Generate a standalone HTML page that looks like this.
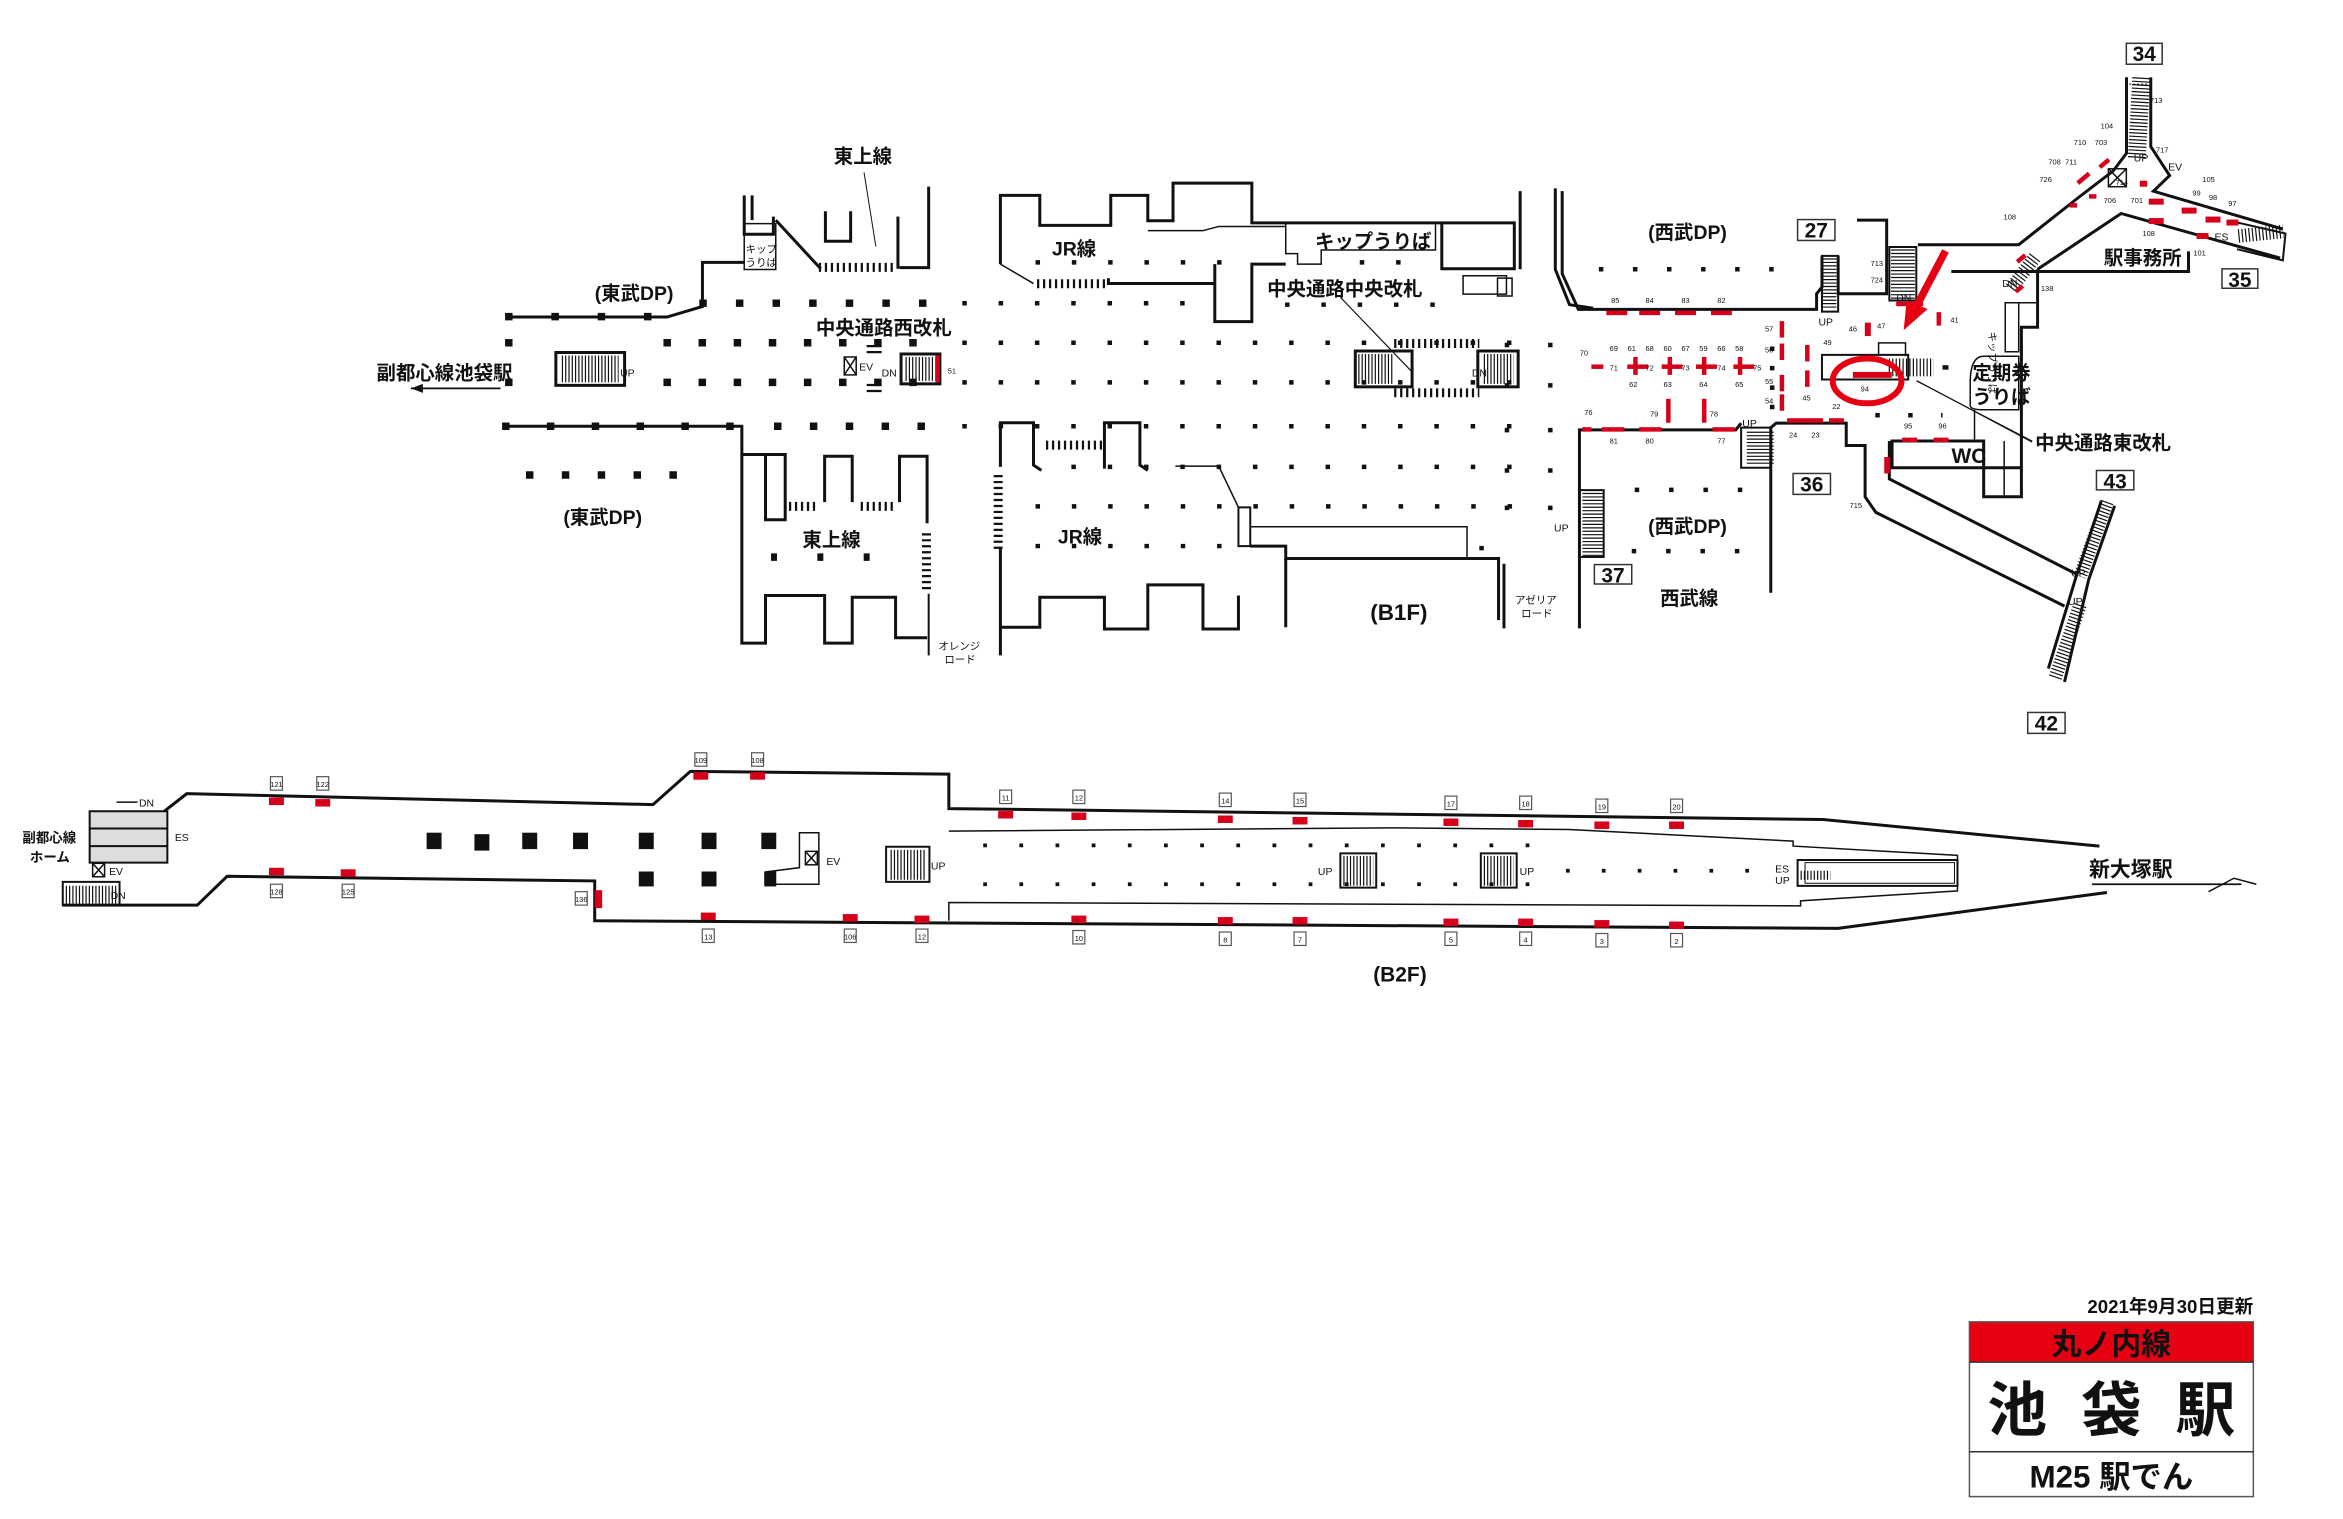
<!DOCTYPE html>
<html><head><meta charset="utf-8">
<style>
html,body{margin:0;padding:0;background:#fff;}
svg{display:block;}
text{font-family:"Liberation Sans","Noto Sans CJK JP",sans-serif;fill:#111;}
.b{font-weight:bold;}
</style></head>
<body>
<svg width="2343" height="1519" viewBox="0 0 1568 1017" preserveAspectRatio="none" xmlns="http://www.w3.org/2000/svg">
<rect width="1568" height="1017" fill="#fff"/>

<g transform="translate(238,86) scale(0.5275,0.236)" fill="none" stroke="#111" stroke-width="3" vector-effect="non-scaling-stroke">
 <g vector-effect="non-scaling-stroke">
 <polyline vector-effect="non-scaling-stroke" points="190,535 395,535 440,505 440,380 493,380"/>
 <rect vector-effect="non-scaling-stroke" x="493" y="270" width="40" height="130" stroke-width="1.5"/>
 <polyline vector-effect="non-scaling-stroke" points="493,190 493,300 530,300 530,250"/>
 <polyline vector-effect="non-scaling-stroke" points="503,190 503,260"/>
 <line vector-effect="non-scaling-stroke" x1="533" y1="260" x2="590" y2="398"/>
 <polyline vector-effect="non-scaling-stroke" points="596,235 596,320 628,320 628,235"/>
 <line vector-effect="non-scaling-stroke" x1="688" y1="250" x2="688" y2="398"/>
 <polyline vector-effect="non-scaling-stroke" points="727,165 727,395 690,395"/>
 <line vector-effect="non-scaling-stroke" x1="645" y1="125" x2="660" y2="335" stroke-width="1"/>
 <polyline vector-effect="non-scaling-stroke" points="818,385 818,190 868,190 868,275 958,275 958,190 1005,190 1005,262 1037,262 1037,155 1137,155 1137,268 1470,268 1470,398 1378,398 1378,268"/>
 <polyline vector-effect="non-scaling-stroke" points="818,385 860,440" stroke-width="1.5"/>
 <polyline vector-effect="non-scaling-stroke" points="955,425 955,440 1090,440"/>
 <polyline vector-effect="non-scaling-stroke" points="1090,385 1090,548 1137,548 1137,385 1180,385"/>
 <polyline vector-effect="non-scaling-stroke" points="1005,290 1075,290 1095,278 1180,278" stroke-width="1.5"/>
 <polyline vector-effect="non-scaling-stroke" points="1180,268 1180,355 1195,355 1195,385 1225,385 1225,345 1370,345 1370,268" stroke-width="1.5"/>
 <rect vector-effect="non-scaling-stroke" x="1405" y="418" width="55" height="52" stroke-width="1.5"/>
 <polyline vector-effect="non-scaling-stroke" points="1522,170 1522,400 1540,500 1570,510"/>
 <polyline vector-effect="non-scaling-stroke" points="190,845 490,845 490,1460 520,1460 520,1325 595,1325 595,1460 630,1460 630,1330 685,1330 685,1445 725,1445"/>
 <polyline vector-effect="non-scaling-stroke" points="490,925 545,925 545,1110 520,1110 520,925"/>
 <polyline vector-effect="non-scaling-stroke" points="595,1060 595,930 630,930 630,1060"/>
 <polyline vector-effect="non-scaling-stroke" points="690,1060 690,930 725,930 725,1120"/>
 <line vector-effect="non-scaling-stroke" x1="727" y1="1320" x2="727" y2="1495" stroke-width="2"/>
 <polyline vector-effect="non-scaling-stroke" points="818,960 818,835 860,835 860,955 870,970"/>
 <polyline vector-effect="non-scaling-stroke" points="950,965 950,835 995,835 995,955 1005,970"/>
 <line vector-effect="non-scaling-stroke" x1="818" y1="1190" x2="818" y2="1495"/>
 <polyline vector-effect="non-scaling-stroke" points="818,1415 868,1415 868,1330 950,1330 950,1420 1005,1420 1005,1295 1075,1295 1075,1420 1120,1420 1120,1325"/>
 <polyline vector-effect="non-scaling-stroke" points="1040,958 1095,958 1120,1075" stroke-width="1.5"/>
 <rect vector-effect="non-scaling-stroke" x="1120" y="1075" width="15" height="110" stroke-width="2"/>
 <polyline vector-effect="non-scaling-stroke" points="1135,1130 1410,1130 1410,1220" stroke-width="1.5"/>
 <polyline vector-effect="non-scaling-stroke" points="1135,1185 1180,1185 1180,1220 1450,1220 1450,1395"/>
 <line vector-effect="non-scaling-stroke" x1="1180" y1="1220" x2="1180" y2="1415"/>
 </g>
</g>

<g stroke="#111" fill="none">
 <line x1="548" y1="179" x2="600" y2="179" stroke-width="6" stroke-dasharray="1.5 2.5"/>
 <line x1="694" y1="190" x2="740" y2="190" stroke-width="6" stroke-dasharray="1.5 2.5"/>
 <line x1="700" y1="298" x2="738" y2="298" stroke-width="6" stroke-dasharray="1.5 2.5"/>
 <line x1="528" y1="339" x2="548" y2="339" stroke-width="6" stroke-dasharray="1.5 2.5"/>
 <line x1="576" y1="339" x2="600" y2="339" stroke-width="6" stroke-dasharray="1.5 2.5"/>
 <line x1="620" y1="357" x2="620" y2="396" stroke-width="6" stroke-dasharray="1.5 2.5"/>
 <line x1="668" y1="318" x2="668" y2="368" stroke-width="6" stroke-dasharray="1.5 2.5"/>
 <line x1="933" y1="230" x2="990" y2="230" stroke-width="6" stroke-dasharray="1.5 2.5"/>
 <line x1="933" y1="263" x2="990" y2="263" stroke-width="6" stroke-dasharray="1.5 2.5"/>
 <line x1="585" y1="231" x2="585" y2="238" stroke-width="10" stroke-dasharray="1.5 2.5"/>
 <line x1="585" y1="257" x2="585" y2="263" stroke-width="10" stroke-dasharray="1.5 2.5"/>
 <rect x="372" y="236" width="46" height="22" stroke-width="2"/>
 <line x1="376" y1="247" x2="414" y2="247" stroke-width="18" stroke-dasharray="0.8 1.4" />
 <rect x="603" y="237" width="26" height="20" stroke-width="2"/>
 <line x1="606" y1="247" x2="626" y2="247" stroke-width="16" stroke-dasharray="0.8 1.4"/>
 <rect x="626" y="238" width="3" height="18" fill="#d7001a" stroke="none"/>
 <rect x="565" y="239" width="8" height="12" stroke-width="1"/>
 <line x1="565" y1="239" x2="573" y2="251" stroke-width="1"/><line x1="573" y1="239" x2="565" y2="251" stroke-width="1"/>
 <rect x="907" y="235" width="38" height="24" stroke-width="2"/>
 <line x1="909" y1="247" x2="932" y2="247" stroke-width="20" stroke-dasharray="0.8 1.4"/>
 <rect x="989" y="235" width="27" height="24" stroke-width="2"/>
 <line x1="993" y1="247" x2="1013" y2="247" stroke-width="20" stroke-dasharray="0.8 1.4"/>
 <line x1="897" y1="199" x2="945" y2="249" stroke-width="0.8"/>
 <line x1="275" y1="260" x2="335" y2="260" stroke-width="1.2"/>
 <polygon points="275,260 283,257 283,263" fill="#111" stroke="none"/>
</g>

<g stroke="#111">
 <line x1="338" y1="212" x2="450" y2="212" stroke-width="5" stroke-dasharray="5 26"/>
 <line x1="468" y1="203" x2="630" y2="203" stroke-width="5" stroke-dasharray="5 19.5"/>
 <line x1="644" y1="203" x2="800" y2="203" stroke-width="3" stroke-dasharray="3 21.3"/>
 <line x1="860" y1="204" x2="965" y2="204" stroke-width="3" stroke-dasharray="3 21.3"/>
 <line x1="338" y1="229.5" x2="343" y2="229.5" stroke-width="5"/>
 <line x1="444" y1="229.5" x2="630" y2="229.5" stroke-width="5" stroke-dasharray="5 18.5"/>
 <line x1="644" y1="229.5" x2="1032" y2="229.5" stroke-width="3" stroke-dasharray="3 21.3"/>
 <line x1="338" y1="256" x2="343" y2="256" stroke-width="5"/>
 <line x1="444" y1="256" x2="630" y2="256" stroke-width="5" stroke-dasharray="5 18.5"/>
 <line x1="644" y1="256" x2="1032" y2="256" stroke-width="3" stroke-dasharray="3 21.3"/>
 <line x1="336" y1="285.4" x2="500" y2="285.4" stroke-width="5" stroke-dasharray="5 25"/>
 <line x1="518" y1="285.4" x2="628" y2="285.4" stroke-width="5" stroke-dasharray="5 19"/>
 <line x1="644" y1="285.4" x2="1032" y2="285.4" stroke-width="3" stroke-dasharray="3 21.3"/>
 <line x1="352" y1="318" x2="472" y2="318" stroke-width="5" stroke-dasharray="5 19"/>
 <line x1="717" y1="312.6" x2="1032" y2="312.6" stroke-width="3" stroke-dasharray="3 21.3"/>
 <line x1="693" y1="339" x2="1032" y2="339" stroke-width="3" stroke-dasharray="3 21.3"/>
 <line x1="693" y1="365.6" x2="820" y2="365.6" stroke-width="3" stroke-dasharray="3 21.3"/>
 <line x1="516" y1="373" x2="600" y2="373" stroke-width="5" stroke-dasharray="4 27"/>
 <line x1="693" y1="175.7" x2="820" y2="175.7" stroke-width="3" stroke-dasharray="3 21.3"/>
 <line x1="910" y1="175.7" x2="940" y2="175.7" stroke-width="3" stroke-dasharray="3 21.3"/>
 <line x1="990" y1="367" x2="993" y2="367" stroke-width="3"/>
</g>

<g transform="translate(1002.9,-0.44) scale(0.3607,0.2987)" fill="none" stroke="#111">
 <line vector-effect="non-scaling-stroke" stroke-width="3" x1="40" y1="430" x2="40" y2="605"/>
 <rect vector-effect="non-scaling-stroke" stroke-width="1.5" x="-2" y="625" width="27" height="40"/>
 <polyline vector-effect="non-scaling-stroke" stroke-width="3" points="118,430 118,615 148,695 590,695 590,660 600,645 600,575"/>
 <polyline vector-effect="non-scaling-stroke" stroke-width="3" points="630,575 630,660 720,660 720,495 665,495"/>
 <rect vector-effect="non-scaling-stroke" stroke-width="2" x="600" y="575" width="30" height="125"/>
 <rect vector-effect="non-scaling-stroke" stroke-width="2" x="725" y="555" width="50" height="120"/>
 <polyline vector-effect="non-scaling-stroke" stroke-width="3" points="778,550 965,550 1075,445 1140,385 1165,345 1165,175"/>
 <polyline vector-effect="non-scaling-stroke" stroke-width="3" points="1210,175 1210,330 1245,395 1215,430 1455,515"/>
 <polyline vector-effect="non-scaling-stroke" stroke-width="3" points="1000,605 1155,480 1450,580"/>
 <polyline vector-effect="non-scaling-stroke" stroke-width="3" points="840,610 1000,610 1000,605"/>
 <polyline vector-effect="non-scaling-stroke" stroke-width="3" points="1000,610 1280,610 1280,565"/>
 <polyline vector-effect="non-scaling-stroke" stroke-width="3" points="1000,610 1000,735 970,735 970,1115 900,1115 900,990 730,990 730,1050 970,1050"/>
 <line vector-effect="non-scaling-stroke" stroke-width="1.5" x1="938" y1="1115" x2="938" y2="990"/>
 <polyline vector-effect="non-scaling-stroke" stroke-width="1.5" points="940,680 1000,680"/>
 <rect vector-effect="non-scaling-stroke" stroke-width="1.5" x="940" y="680" width="25" height="110"/>
 <path vector-effect="non-scaling-stroke" stroke-width="1.5" d="M900,800 Q875,800 875,860 L875,910 Q875,920 900,920 L965,920 L965,800 Z"/>
 <line vector-effect="non-scaling-stroke" stroke-width="1.5" x1="883" y1="920" x2="883" y2="990"/>
 <polyline vector-effect="non-scaling-stroke" stroke-width="3" points="150,1410 150,965 440,965 450,950"/>
 <polyline vector-effect="non-scaling-stroke" stroke-width="3" points="505,1330 505,960 515,950 645,950 645,1000 680,1000 680,1115 700,1150 1050,1360"/>
 <polyline vector-effect="non-scaling-stroke" stroke-width="3" points="725,990 725,1075 1075,1290"/>
 <line vector-effect="non-scaling-stroke" stroke-width="3" x1="10" y1="1265" x2="10" y2="1410"/>
 <rect vector-effect="non-scaling-stroke" stroke-width="2" x="450" y="960" width="55" height="90"/>
 <rect vector-effect="non-scaling-stroke" stroke-width="2" x="150" y="1100" width="45" height="150"/>
 <rect vector-effect="non-scaling-stroke" stroke-width="2" x="600" y="797" width="160" height="55"/>
 <polyline vector-effect="non-scaling-stroke" stroke-width="1.5" points="705,800 705,770 755,770 755,800"/>
 <line vector-effect="non-scaling-stroke" stroke-width="1" x1="775" y1="855" x2="990" y2="990"/>
 <polyline vector-effect="non-scaling-stroke" stroke-width="3" points="1165,175 1165,345"/>
 <line vector-effect="non-scaling-stroke" stroke-width="1" x1="1170" y1="190" x2="1205" y2="190" stroke-dasharray="2 2"/>
 <polyline vector-effect="non-scaling-stroke" stroke-width="3" points="1118,1125 1070,1300 1020,1500"/>
 <polyline vector-effect="non-scaling-stroke" stroke-width="3" points="1143,1135 1095,1300 1050,1530"/>
 <polyline vector-effect="non-scaling-stroke" stroke-width="2" points="1370,500 1460,525 1455,585 1370,560"/>
</g>
<g stroke="#111" fill="none">
 <line x1="1224.5" y1="173" x2="1224.5" y2="207" stroke-width="9" stroke-dasharray="0.8 1.5"/>
 <line x1="1273.5" y1="167" x2="1273.5" y2="200" stroke-width="16" stroke-dasharray="0.8 1.5"/>
 <line x1="1178" y1="289" x2="1178" y2="312" stroke-width="18" stroke-dasharray="0.8 1.5"/>
 <line x1="1066" y1="330" x2="1066" y2="373" stroke-width="14" stroke-dasharray="0.8 1.5"/>
 <line x1="1433" y1="52" x2="1430" y2="106" stroke-width="12" stroke-dasharray="0.8 1.5"/>
 <line x1="1410" y1="336" x2="1392" y2="386" stroke-width="9" stroke-dasharray="0.8 1.5"/>
 <line x1="1392" y1="405" x2="1375" y2="455" stroke-width="9" stroke-dasharray="0.8 1.5"/>
 <line x1="1346" y1="193" x2="1362" y2="172" stroke-width="9" stroke-dasharray="0.8 1.5"/>
 <line x1="1498" y1="158" x2="1528" y2="155" stroke-width="9" stroke-dasharray="0.8 1.5"/>
 <line x1="1264" y1="246" x2="1294" y2="246" stroke-width="12" stroke-dasharray="0.8 1.5"/>
 <rect x="1411" y="113" width="12" height="12" stroke-width="1"/>
 <line x1="1411" y1="113" x2="1423" y2="125" stroke-width="1"/><line x1="1423" y1="113" x2="1411" y2="125" stroke-width="1"/>
</g>
<g stroke="#111">
 <line x1="1070" y1="180.3" x2="1190" y2="180.3" stroke-width="3" stroke-dasharray="3 19.8"/>
 <line x1="1094" y1="328" x2="1166" y2="328" stroke-width="3" stroke-dasharray="3 20"/>
 <line x1="1092" y1="369" x2="1165" y2="369" stroke-width="3" stroke-dasharray="3 20"/>
 <line x1="1007" y1="231" x2="1040" y2="231" stroke-width="3" stroke-dasharray="3 26"/>
 <line x1="1007" y1="258" x2="1040" y2="258" stroke-width="3" stroke-dasharray="3 26"/>
 <line x1="1007" y1="288" x2="1040" y2="288" stroke-width="3" stroke-dasharray="3 26"/>
 <line x1="1007" y1="315" x2="1040" y2="315" stroke-width="3" stroke-dasharray="3 26"/>
 <line x1="1007" y1="340" x2="1040" y2="340" stroke-width="3" stroke-dasharray="3 26"/>
 <line x1="1186" y1="232" x2="1186" y2="275" stroke-width="3" stroke-dasharray="3 10"/>
 <line x1="1255" y1="278" x2="1300" y2="278" stroke-width="3" stroke-dasharray="3 19"/>
 <line x1="1300" y1="246" x2="1304" y2="246" stroke-width="3"/>
</g>
<g fill="#d7001a">
 <rect x="1075" y="208" width="14" height="3"/><rect x="1097" y="208" width="14" height="3"/><rect x="1121" y="208" width="14" height="3"/><rect x="1145" y="208" width="14" height="3"/>
 <rect x="1065" y="244" width="8" height="3"/>
 <rect x="1089" y="244" width="14" height="3"/><rect x="1112" y="244" width="14" height="3"/><rect x="1135" y="244" width="14" height="3"/><rect x="1160" y="244" width="14" height="3"/>
 <rect x="1093" y="239" width="3" height="12"/><rect x="1116" y="239" width="3" height="12"/><rect x="1139" y="239" width="3" height="12"/><rect x="1163" y="239" width="3" height="12"/>
 <rect x="1191" y="215" width="3" height="11"/><rect x="1191" y="230" width="3" height="11"/><rect x="1191" y="251" width="3" height="11"/><rect x="1191" y="264" width="3" height="11"/>
 <rect x="1208" y="231" width="3" height="11"/><rect x="1208" y="248" width="3" height="11"/>
 <rect x="1072" y="286" width="15" height="3"/><rect x="1097" y="286" width="15" height="3"/><rect x="1146" y="286" width="15" height="3"/><rect x="1059" y="286" width="6" height="3"/>
 <rect x="1115" y="267" width="3" height="16"/><rect x="1139" y="267" width="3" height="16"/>
 <rect x="1196" y="280" width="14" height="3"/><rect x="1210" y="280" width="10" height="3"/><rect x="1224" y="280" width="10" height="3"/>
 <rect x="1248" y="216" width="4" height="9"/><rect x="1296" y="209" width="3" height="9"/>
 <rect x="1269" y="202" width="18" height="3"/>
 <rect x="1273" y="293" width="10" height="3"/><rect x="1294" y="293" width="10" height="3"/>
 <rect x="1261" y="306" width="4" height="11"/>
 <rect x="1240" y="249" width="26" height="4"/>
 <rect x="1349" y="172" width="7" height="3" transform="rotate(-40 1352 173)"/>
 <rect x="1348" y="192" width="6" height="3" transform="rotate(-40 1351 193)"/>
 <rect x="1389" y="118" width="10" height="3" transform="rotate(-40 1394 119)"/>
 <rect x="1404" y="108" width="8" height="3" transform="rotate(-40 1408 109)"/>
 <rect x="1385" y="136" width="5" height="3"/><rect x="1398" y="130" width="5" height="3"/>
 <rect x="1438" y="133" width="10" height="4"/><rect x="1460" y="139" width="10" height="4"/><rect x="1476" y="145" width="10" height="4"/><rect x="1490" y="147" width="8" height="4"/>
 <rect x="1438" y="146" width="10" height="4"/><rect x="1470" y="156" width="8" height="4"/>
 <rect x="1432" y="121" width="5" height="4"/>
</g>
<ellipse cx="1249.5" cy="255" rx="23" ry="15" fill="none" stroke="#e60012" stroke-width="4"/>
<line x1="1302" y1="168" x2="1281" y2="208" stroke="#e60012" stroke-width="5"/>
<polygon points="1274,221 1276,201 1290,207" fill="#e60012"/>
<line x1="1360" y1="296" x2="1283" y2="255" stroke="#111" stroke-width="0.8"/>

<g fill="none" stroke="#333" stroke-width="1">
 <rect x="1203" y="147" width="25" height="14"/><rect x="1423" y="29" width="24" height="14"/><rect x="1487" y="180" width="24" height="13"/>
 <rect x="1200" y="317" width="25" height="14"/><rect x="1067" y="378" width="25" height="13"/><rect x="1403" y="315" width="25" height="13"/><rect x="1357" y="477" width="25" height="14"/>
</g>
<g font-size="14" class="b" text-anchor="middle">
 <text x="1215.5" y="159">27</text><text x="1435" y="41">34</text><text x="1499" y="192">35</text>
 <text x="1212.5" y="329">36</text><text x="1079.5" y="390">37</text><text x="1415.5" y="327">43</text><text x="1369.5" y="489">42</text>
</g>
<g font-size="5" text-anchor="middle" fill="#333">
 <text x="1081" y="203">85</text><text x="1104" y="203">84</text><text x="1128" y="203">83</text><text x="1152" y="203">82</text>
 <text x="1080" y="235">69</text><text x="1092" y="235">61</text><text x="1104" y="235">68</text><text x="1116" y="235">60</text><text x="1128" y="235">67</text><text x="1140" y="235">59</text><text x="1152" y="235">66</text><text x="1164" y="235">58</text>
 <text x="1060" y="238">70</text><text x="1080" y="248">71</text><text x="1104" y="248">72</text><text x="1128" y="248">73</text><text x="1152" y="248">74</text><text x="1176" y="248">75</text>
 <text x="1093" y="259">62</text><text x="1116" y="259">63</text><text x="1140" y="259">64</text><text x="1164" y="259">65</text>
 <text x="1184" y="222">57</text><text x="1184" y="236">56</text><text x="1184" y="257">55</text><text x="1184" y="270">54</text>
 <text x="1063" y="278">76</text><text x="1107" y="279">79</text><text x="1147" y="279">78</text>
 <text x="1080" y="297">81</text><text x="1104" y="297">80</text><text x="1152" y="297">77</text>
 <text x="1200" y="293">24</text><text x="1215" y="293">23</text><text x="1229" y="274">22</text><text x="1209" y="268">45</text><text x="1223" y="231">49</text>
 <text x="1240" y="222">46</text><text x="1259" y="220">47</text><text x="1308" y="216">41</text><text x="1248" y="262">94</text>
 <text x="1277" y="287">95</text><text x="1300" y="287">96</text><text x="1242" y="340">715</text><text x="1256" y="178">713</text><text x="1256" y="189">724</text>
 <text x="1345" y="147">108</text><text x="1370" y="195">138</text><text x="1438" y="158">108</text><text x="1472" y="171">101</text>
 <text x="1443" y="69">713</text><text x="1410" y="86">104</text><text x="1392" y="97">710</text><text x="1406" y="97">703</text><text x="1375" y="110">708</text><text x="1386" y="110">711</text>
 <text x="1369" y="122">726</text><text x="1420" y="124">714</text><text x="1412" y="136">706</text><text x="1430" y="136">701</text><text x="1447" y="102">717</text>
 <text x="1478" y="122">105</text><text x="1470" y="131">99</text><text x="1481" y="134">98</text><text x="1494" y="138">97</text>
 <text x="637" y="250">51</text>
</g>

<g transform="translate(0,488.7) scale(1,0.2222)" fill="none" stroke="#111">
 <polyline vector-effect="non-scaling-stroke" stroke-width="3" points="110,245 125,192 437,225 462,125 635,133 635,237 1220,270 1405,350"/>
 <polyline vector-effect="non-scaling-stroke" stroke-width="3" points="42,528 132,528 152,441 398,455 398,575 1230,598 1410,490"/>
 <polyline vector-effect="non-scaling-stroke" stroke-width="1.5" points="635,305 930,295 1050,300 1200,335 1200,350 1310,378 1310,485 1205,515 1205,530 635,520 635,575"/>
 <rect vector-effect="non-scaling-stroke" stroke-width="2" x="1203" y="392" width="107" height="78"/>
 <rect vector-effect="non-scaling-stroke" stroke-width="1" x="1208" y="400" width="100" height="62"/>
 <rect vector-effect="non-scaling-stroke" stroke-width="2" x="60" y="245" width="52" height="155" fill="#ddd"/>
 <line vector-effect="non-scaling-stroke" stroke-width="2" x1="60" y1="297" x2="112" y2="297"/>
 <line vector-effect="non-scaling-stroke" stroke-width="2" x1="60" y1="350" x2="112" y2="350"/>
 <rect vector-effect="non-scaling-stroke" stroke-width="2" x="42" y="458" width="38" height="70"/>
 <polyline vector-effect="non-scaling-stroke" stroke-width="1.5" points="512,428 512,465 548,465 548,310 535,310 535,415 512,428"/>
 <rect vector-effect="non-scaling-stroke" stroke-width="2" x="593" y="352" width="29" height="106"/>
 <rect vector-effect="non-scaling-stroke" stroke-width="2" x="897" y="372" width="24" height="103"/>
 <rect vector-effect="non-scaling-stroke" stroke-width="2" x="991" y="372" width="24" height="103"/>
</g>
<g stroke="#111" fill="none">
 <line x1="596" y1="579" x2="619" y2="579" stroke-width="20" stroke-dasharray="0.8 1.4"/>
 <line x1="899" y1="583" x2="919" y2="583" stroke-width="20" stroke-dasharray="0.8 1.4"/>
 <line x1="993" y1="583" x2="1013" y2="583" stroke-width="20" stroke-dasharray="0.8 1.4"/>
 <line x1="44" y1="599" x2="78" y2="599" stroke-width="12" stroke-dasharray="0.8 1.4"/>
 <line x1="1205" y1="586" x2="1225" y2="586" stroke-width="6" stroke-dasharray="0.8 1.4"/>
 <rect x="62" y="578" width="8" height="9" stroke-width="1"/><line x1="62" y1="578" x2="70" y2="587" stroke-width="1"/><line x1="70" y1="578" x2="62" y2="587" stroke-width="1"/>
 <rect x="539" y="570" width="8" height="9" stroke-width="1"/><line x1="539" y1="570" x2="547" y2="579" stroke-width="1"/><line x1="547" y1="570" x2="539" y2="579" stroke-width="1"/>
 <line x1="1400" y1="592" x2="1500" y2="592" stroke-width="1.2"/>
 <polyline points="1478,597 1495,588 1510,592" stroke-width="1"/>
 <line x1="78" y1="537" x2="92" y2="537" stroke-width="1"/>
</g>
<g stroke="#111">
 <rect x="286" y="558" width="9" height="10" fill="#111"/><rect x="318" y="559" width="9" height="10" fill="#111"/><rect x="350" y="558" width="9" height="10" fill="#111"/><rect x="384" y="558" width="9" height="10" fill="#111"/><rect x="428" y="558" width="9" height="10" fill="#111"/><rect x="470" y="558" width="9" height="10" fill="#111"/><rect x="510" y="558" width="9" height="10" fill="#111"/>
 <rect x="428" y="584" width="9" height="9" fill="#111"/><rect x="470" y="584" width="9" height="9" fill="#111"/><rect x="512" y="584" width="7" height="9" fill="#111"/>
 <line x1="658" y1="566" x2="1035" y2="566" stroke-width="2.5" stroke-dasharray="2.5 21.7"/>
 <line x1="658" y1="592" x2="1035" y2="592" stroke-width="2.5" stroke-dasharray="2.5 21.7"/>
 <line x1="1048" y1="583" x2="1185" y2="583" stroke-width="2.5" stroke-dasharray="2.5 21.5"/>
</g>
<g fill="#d7001a">
 <rect x="180" y="534" width="10" height="5"/><rect x="211" y="535" width="10" height="5"/>
 <rect x="464" y="517" width="10" height="5"/><rect x="502" y="517" width="10" height="5"/>
 <rect x="668" y="543" width="10" height="5"/><rect x="717" y="544" width="10" height="5"/><rect x="815" y="546" width="10" height="5"/><rect x="865" y="547" width="10" height="5"/>
 <rect x="966" y="548" width="10" height="5"/><rect x="1016" y="549" width="10" height="5"/><rect x="1067" y="550" width="10" height="5"/><rect x="1117" y="550" width="10" height="5"/>
 <rect x="180" y="581" width="10" height="5"/><rect x="228" y="582" width="10" height="5"/>
 <rect x="398" y="596" width="5" height="12"/>
 <rect x="469" y="611" width="10" height="5"/><rect x="564" y="612" width="10" height="5"/><rect x="612" y="613" width="10" height="5"/><rect x="717" y="613" width="10" height="5"/>
 <rect x="815" y="614" width="10" height="5"/><rect x="865" y="614" width="10" height="5"/><rect x="966" y="615" width="10" height="5"/><rect x="1016" y="615" width="10" height="5"/><rect x="1067" y="616" width="10" height="5"/><rect x="1117" y="617" width="10" height="5"/>
</g>
<g fill="none" stroke="#555" stroke-width="0.8">
 <rect x="181" y="520" width="8" height="9"/><rect x="212" y="520" width="8" height="9"/><rect x="465" y="504" width="8" height="9"/><rect x="503" y="504" width="8" height="9"/>
 <rect x="669" y="529" width="8" height="9"/><rect x="718" y="529" width="8" height="9"/><rect x="816" y="531" width="8" height="9"/><rect x="866" y="531" width="8" height="9"/>
 <rect x="967" y="533" width="8" height="9"/><rect x="1017" y="533" width="8" height="9"/><rect x="1068" y="535" width="8" height="9"/><rect x="1118" y="535" width="8" height="9"/>
 <rect x="181" y="592" width="8" height="9"/><rect x="229" y="592" width="8" height="9"/><rect x="385" y="597" width="8" height="9"/>
 <rect x="470" y="622" width="8" height="9"/><rect x="565" y="622" width="8" height="9"/><rect x="613" y="622" width="8" height="9"/><rect x="718" y="623" width="8" height="9"/>
 <rect x="816" y="624" width="8" height="9"/><rect x="866" y="624" width="8" height="9"/><rect x="967" y="624" width="8" height="9"/><rect x="1017" y="624" width="8" height="9"/><rect x="1068" y="625" width="8" height="9"/><rect x="1118" y="625" width="8" height="9"/>
</g>
<g font-size="5" text-anchor="middle" fill="#333">
 <text x="185" y="527">121</text><text x="216" y="527">122</text><text x="469" y="511">109</text><text x="507" y="511">108</text>
 <text x="673" y="536">11</text><text x="722" y="536">12</text><text x="820" y="538">14</text><text x="870" y="538">15</text><text x="971" y="540">17</text><text x="1021" y="540">18</text><text x="1072" y="542">19</text><text x="1122" y="542">20</text>
 <text x="185" y="599">128</text><text x="233" y="599">125</text><text x="389" y="604">136</text>
 <text x="474" y="629">13</text><text x="569" y="629">106</text><text x="617" y="629">12</text><text x="722" y="630">10</text><text x="820" y="631">8</text><text x="870" y="631">7</text><text x="971" y="631">5</text><text x="1021" y="631">4</text><text x="1072" y="632">3</text><text x="1122" y="632">2</text>
</g>

<g class="b" font-size="13">
 <text x="558" y="109">東上線</text>
 <text x="398" y="201">(東武DP)</text>
 <text x="252" y="254">副都心線池袋駅</text>
 <text x="546" y="224">中央通路西改札</text>
 <text x="704" y="171">JR線</text>
 <text x="880" y="166">キップうりば</text>
 <text x="848" y="198">中央通路中央改札</text>
 <text x="377" y="351">(東武DP)</text>
 <text x="537" y="366">東上線</text>
 <text x="708" y="364">JR線</text>
 <text x="1103" y="160">(西武DP)</text>
 <text x="1103" y="357">(西武DP)</text>
 <text x="1111" y="405">西武線</text>
 <text x="1408" y="177">駅事務所</text>
 <text x="1320" y="254">定期券</text>
 <text x="1320" y="270">うりば</text>
 <text x="1362" y="301">中央通路東改札</text>
 <text x="1306" y="310" font-size="14">WC</text>
</g>
<text x="917" y="415" font-size="15" class="b">(B1F)</text>
<text x="919" y="657" font-size="14" class="b">(B2F)</text>
<text x="1398" y="587" font-size="14" class="b">新大塚駅</text>
<g font-size="7">
 <text x="499" y="169">キップ</text><text x="499" y="178">うりば</text>
 <text x="628" y="435">オレンジ</text><text x="632" y="444">ロード</text>
 <text x="1014" y="404">アゼリア</text><text x="1018" y="413">ロード</text>
 <text x="415" y="252">UP</text><text x="575" y="248">EV</text><text x="590" y="252">DN</text><text x="985" y="252">DN</text>
 <text x="1217" y="218">UP</text><text x="1166" y="286">UP</text><text x="1040" y="356">UP</text><text x="1269" y="202">DN</text>
 <text x="1428" y="108">UP</text><text x="1451" y="114">EV</text><text x="1482" y="161">ES</text><text x="1340" y="192">DN</text>
 <text x="1386" y="386">UP</text><text x="1384" y="405">UP</text>
 <text x="93" y="540">DN</text><text x="117" y="563">ES</text><text x="73" y="586">EV</text><text x="74" y="602">DN</text>
 <text x="553" y="579">EV</text><text x="623" y="582">UP</text><text x="882" y="586">UP</text><text x="1017" y="586">UP</text>
 <text x="1188" y="584">ES</text><text x="1188" y="592">UP</text>
</g>
<g font-size="9" class="b"><text x="15" y="564">副都心線</text><text x="20" y="577">ホーム</text></g>
<text x="1331" y="222" font-size="7" transform="rotate(90 1331 222)">キップうりば</text>

<text x="1508" y="879" font-size="12.5" text-anchor="end" class="b">2021年9月30日更新</text>
<rect x="1318" y="885" width="190" height="27" fill="#e60012"/>
<rect x="1318" y="885" width="190" height="117" fill="none" stroke="#555" stroke-width="1"/>
<line x1="1318" y1="912" x2="1508" y2="912" stroke="#333" stroke-width="1"/>
<line x1="1318" y1="972" x2="1508" y2="972" stroke="#333" stroke-width="1"/>
<text x="1413" y="907" font-size="20" text-anchor="middle" class="b">丸ノ内線</text>
<g font-size="40" text-anchor="middle" class="b">
 <text x="1350" y="958">池</text><text x="1413" y="958">袋</text><text x="1476" y="958">駅</text>
</g>
<text x="1413" y="996" font-size="21" text-anchor="middle" class="b">M25 駅でん</text>
</svg>
</body></html>
